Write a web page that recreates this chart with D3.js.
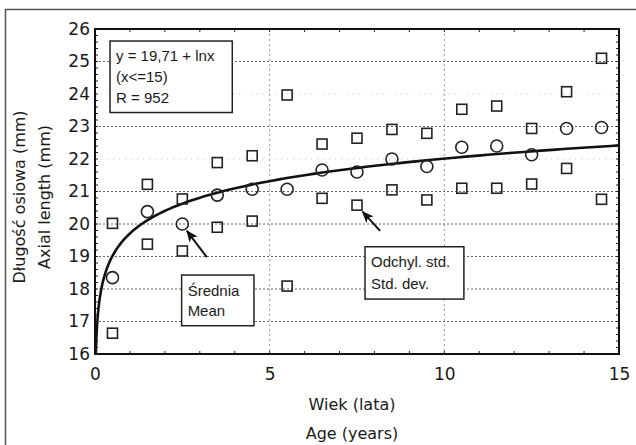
<!DOCTYPE html>
<html>
<head>
<meta charset="utf-8">
<script src="https://cdn.jsdelivr.net/npm/d3@7"></script>
<style>
  html, body { margin: 0; padding: 0; background: #fff; }
  svg { display: block; }
</style>
</head>
<body>
<div id="chart"></div>
<script>
// Data
var ages = [0.5, 1.5, 2.5, 3.5, 4.5, 5.5, 6.5, 7.5, 8.5, 9.5, 10.5, 11.5, 12.5, 13.5, 14.5];
var meanValues = [18.35, 20.38, 20.0, 20.89, 21.07, 21.07, 21.66, 21.6, 22.0, 21.77, 22.36, 22.4, 22.13, 22.94, 22.97];
var upperValues = [20.02, 21.22, 20.77, 21.89, 22.1, 23.97, 22.46, 22.64, 22.91, 22.79, 23.53, 23.63, 22.94, 24.07, 25.1];
var lowerValues = [16.64, 19.38, 19.17, 19.9, 20.09, 18.09, 20.79, 20.58, 21.05, 20.74, 21.1, 21.1, 21.23, 21.71, 20.76];
var xTicks = [0, 5, 10, 15];
var yTicks = [16, 17, 18, 19, 20, 21, 22, 23, 24, 25, 26];
var fitIntercept = 19.71;   // y = 19,71 + ln x
var fitMaxX = 15;
var legendLines = ['y = 19,71 + lnx', '(x<=15)', 'R = 952'];
var meanLabel = ['Średnia', 'Mean'];
var sdLabel = ['Odchyl. std.', 'Std. dev.'];
var xTitles = ['Wiek (lata)', 'Age (years)'];
var yTitles = ['Długość osiowa (mm)', 'Axial length (mm)'];

function renderChart(params) {

  var attrs = {
    svgWidth: 636,
    svgHeight: 445,
    marginTop: 29,
    marginLeft: 95,
    marginRight: 17,
    marginBottom: 91,
    container: 'body',
    textFill: '#1a1a1a',
    axisFont: '"DejaVu Sans", Verdana, sans-serif',
    boxFont: '"Liberation Sans Narrow", "Arial Narrow", "Liberation Sans", Arial, sans-serif'
  };
  Object.keys(params || {}).forEach(function (k) { attrs[k] = params[k]; });

  var calc = {};
  calc.chartWidth = attrs.svgWidth - attrs.marginLeft - attrs.marginRight;
  calc.chartHeight = attrs.svgHeight - attrs.marginTop - attrs.marginBottom;

  var x = d3.scaleLinear().domain([0, 15]).range([0, calc.chartWidth]);
  var y = d3.scaleLinear().domain([16, 26]).range([calc.chartHeight, 0]);

  var container = d3.select(attrs.container);
  container.html('');

  var svg = container.append('svg')
    .attr('width', attrs.svgWidth)
    .attr('height', attrs.svgHeight)
    .style('background', '#fff');

  // outer frame (only left and top edges show)
  svg.append('path')
    .attr('d', 'M5.5,' + attrs.svgHeight + 'V9.5H' + attrs.svgWidth)
    .attr('fill', 'none')
    .attr('stroke', '#555')
    .attr('stroke-width', 1.5);

  var defs = svg.append('defs');
  defs.append('marker')
    .attr('id', 'arrowHead')
    .attr('viewBox', '0 0 12 10')
    .attr('refX', 11)
    .attr('refY', 5)
    .attr('markerWidth', 12)
    .attr('markerHeight', 10)
    .attr('markerUnits', 'userSpaceOnUse')
    .attr('orient', 'auto')
    .append('path')
    .attr('d', 'M0,0L12,5L0,10L3,5Z')
    .attr('fill', '#111');

  defs.append('clipPath').attr('id', 'plotClip')
    .append('rect')
    .attr('width', calc.chartWidth)
    .attr('height', calc.chartHeight);

  var chart = svg.append('g')
    .attr('transform', 'translate(' + attrs.marginLeft + ',' + attrs.marginTop + ')');

  // grid lines
  var faintLines = [22, 24];
  chart.append('g').selectAll('line')
    .data(yTicks.slice(1, -1))
    .enter().append('line')
    .attr('x1', 0).attr('x2', calc.chartWidth)
    .attr('y1', function (d) { return y(d); })
    .attr('y2', function (d) { return y(d); })
    .attr('stroke', function (d) { return faintLines.indexOf(d) > -1 ? '#c8c8c8' : '#666'; })
    .attr('stroke-width', 1)
    .attr('stroke-dasharray', function (d) { return faintLines.indexOf(d) > -1 ? '1,5' : '2,2'; });

  chart.append('g').selectAll('line')
    .data(xTicks.slice(1, -1))
    .enter().append('line')
    .attr('y1', 0).attr('y2', calc.chartHeight)
    .attr('x1', function (d) { return x(d); })
    .attr('x2', function (d) { return x(d); })
    .attr('stroke', '#999')
    .attr('stroke-width', 1)
    .attr('stroke-dasharray', '2,3');

  // minor ticks, all pointing inward
  var yMinor = d3.range(16, 26.001, 0.2);
  var xMinor = d3.range(0, 15.001, 1);
  var tickLen = 3;
  var ticks = chart.append('g').attr('stroke', '#222').attr('stroke-width', 1);
  ticks.selectAll('.tl').data(yMinor).enter().append('line')
    .attr('x1', 0).attr('x2', tickLen)
    .attr('y1', function (d) { return y(d); }).attr('y2', function (d) { return y(d); });
  ticks.selectAll('.tr').data(yMinor).enter().append('line')
    .attr('x1', calc.chartWidth).attr('x2', calc.chartWidth - tickLen)
    .attr('y1', function (d) { return y(d); }).attr('y2', function (d) { return y(d); });
  ticks.selectAll('.tt').data(xMinor).enter().append('line')
    .attr('y1', 0).attr('y2', tickLen)
    .attr('x1', function (d) { return x(d); }).attr('x2', function (d) { return x(d); });
  ticks.selectAll('.tb').data(xMinor).enter().append('line')
    .attr('y1', calc.chartHeight).attr('y2', calc.chartHeight - tickLen)
    .attr('x1', function (d) { return x(d); }).attr('x2', function (d) { return x(d); });

  // plot frame
  chart.append('rect')
    .attr('width', calc.chartWidth)
    .attr('height', calc.chartHeight)
    .attr('fill', 'none')
    .attr('stroke', '#111')
    .attr('stroke-width', 2);

  // axes labels (via d3 axes, lines hidden)
  var xAxis = chart.append('g')
    .attr('transform', 'translate(0,' + calc.chartHeight + ')')
    .call(d3.axisBottom(x).tickValues(xTicks).tickSize(0).tickPadding(14).tickFormat(d3.format('d')));
  var yAxis = chart.append('g')
    .call(d3.axisLeft(y).tickValues(yTicks).tickSize(0).tickPadding(5).tickFormat(d3.format('d')));
  [xAxis, yAxis].forEach(function (ax) {
    ax.select('.domain').remove();
    ax.selectAll('text')
      .attr('font-family', attrs.axisFont)
      .attr('font-size', 17)
      .attr('fill', attrs.textFill);
  });

  // fitted curve y = a + ln x
  var curveXs = d3.range(0, 401).map(function (i) {
    return Math.exp(-3.72 + (Math.log(fitMaxX) + 3.72) * i / 400);
  });
  chart.append('path')
    .datum(curveXs)
    .attr('clip-path', 'url(#plotClip)')
    .attr('fill', 'none')
    .attr('stroke', '#111')
    .attr('stroke-width', 2.6)
    .attr('d', d3.line()
      .x(function (d) { return x(d); })
      .y(function (d) { return y(fitIntercept + Math.log(d)); }));

  // std dev squares
  var sdPoints = ages.map(function (a, i) { return [a, upperValues[i]]; })
    .concat(ages.map(function (a, i) { return [a, lowerValues[i]]; }));
  var sq = 10;
  chart.append('g').selectAll('rect')
    .data(sdPoints)
    .enter().append('rect')
    .attr('x', function (d) { return x(d[0]) - sq / 2; })
    .attr('y', function (d) { return y(d[1]) - sq / 2; })
    .attr('width', sq).attr('height', sq)
    .attr('fill', 'none')
    .attr('stroke', '#222')
    .attr('stroke-width', 1.6);

  // means
  chart.append('g').selectAll('circle')
    .data(ages.map(function (a, i) { return [a, meanValues[i]]; }))
    .enter().append('circle')
    .attr('cx', function (d) { return x(d[0]); })
    .attr('cy', function (d) { return y(d[1]); })
    .attr('r', 6)
    .attr('fill', 'none')
    .attr('stroke', '#222')
    .attr('stroke-width', 1.6);

  // legend box with fit equation
  drawBox([0.43, 25.63], [3.93, 23.43], legendLines, 21);
  // annotation boxes
  drawBox([2.48, 18.43], [4.55, 16.87], meanLabel, 20);
  drawBox([7.73, 19.3], [10.56, 17.69], sdLabel, 22);

  drawArrow([3.2, 18.98], [2.63, 19.79]);
  drawArrow([8.16, 19.79], [7.66, 20.38]);

  function drawBox(p0, p1, lines, lineGap) {
    var x0 = x(p0[0]), y0 = y(p0[1]), x1 = x(p1[0]), y1 = y(p1[1]);
    var g = chart.append('g');
    g.append('rect')
      .attr('x', x0).attr('y', y0)
      .attr('width', x1 - x0).attr('height', y1 - y0)
      .attr('fill', '#fff')
      .attr('stroke', '#222')
      .attr('stroke-width', 1.5);
    var top = y0 + (y1 - y0) / 2 - (lines.length - 1) * lineGap / 2;
    g.selectAll('text').data(lines).enter().append('text')
      .attr('x', x0 + 6)
      .attr('y', function (d, i) { return top + i * lineGap; })
      .attr('dy', '0.35em')
      .attr('font-family', attrs.boxFont)
      .attr('font-size', 15)
      .attr('fill', attrs.textFill)
      .text(function (d) { return d; });
  }

  function drawArrow(from, to) {
    chart.append('line')
      .attr('x1', x(from[0])).attr('y1', y(from[1]))
      .attr('x2', x(to[0])).attr('y2', y(to[1]))
      .attr('stroke', '#111')
      .attr('stroke-width', 2)
      .attr('marker-end', 'url(#arrowHead)');
  }

  // axis titles
  var cx = attrs.marginLeft + calc.chartWidth / 2 - 5;
  svg.selectAll('.x-title').data(xTitles).enter().append('text')
    .attr('class', 'x-title')
    .attr('x', cx)
    .attr('y', function (d, i) { return 410 + i * 29; })
    .attr('text-anchor', 'middle')
    .attr('font-family', attrs.axisFont)
    .attr('font-size', 16)
    .attr('fill', attrs.textFill)
    .text(function (d) { return d; });

  svg.selectAll('.y-title').data(yTitles).enter().append('text')
    .attr('class', 'y-title')
    .attr('transform', function (d, i) { return 'translate(' + (25 + i * 25) + ',197) rotate(-90)'; })
    .attr('text-anchor', 'middle')
    .attr('font-family', attrs.axisFont)
    .attr('font-size', 16)
    .attr('fill', attrs.textFill)
    .text(function (d) { return d; });
}

renderChart({ container: '#chart' });
</script>
</body>
</html>
